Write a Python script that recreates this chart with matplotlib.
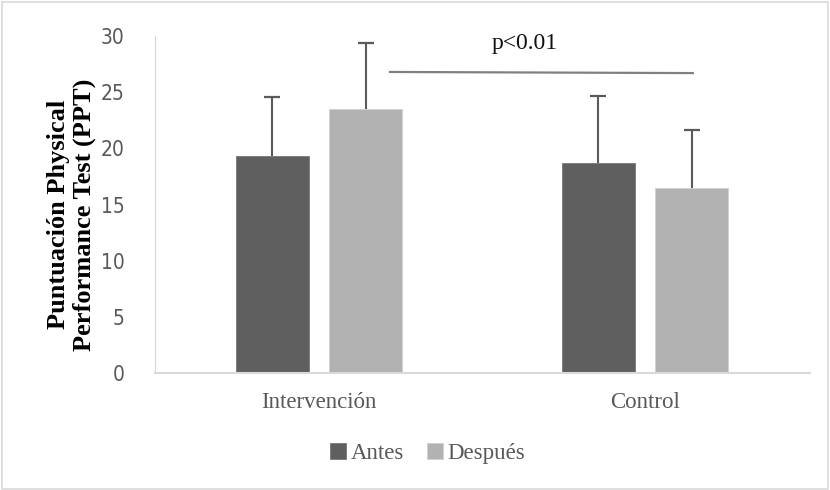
import matplotlib.pyplot as plt
import numpy as np
from matplotlib.patches import Rectangle

groups = ['Intervención', 'Control']
antes = [19.3, 18.7]
despues = [23.5, 16.5]
antes_err = [5.3, 6.0]
despues_err = [5.9, 5.1]
yticks = [0, 5, 10, 15, 20, 25, 30]

x = np.arange(len(groups))
w = 0.224
off = 0.143

fig = plt.figure(figsize=(8.3, 4.9), dpi=100)
ax = fig.add_axes([0.1867, 0.2388, 0.789, 0.6877])

ax.bar(x - off, antes, w, color='#5f5f5f', edgecolor='#777777', linewidth=0.6,
       label='Antes', zorder=2)
ax.bar(x + off, despues, w, color='#b2b2b2', edgecolor='#d0d0d0', linewidth=0.6,
       label='Después', zorder=2)

# upper error bars only
for xs, vals, errs in [(x - off, antes, antes_err), (x + off, despues, despues_err)]:
    ax.errorbar(xs, vals, yerr=[np.zeros(2), errs], fmt='none', ecolor='#5a5a5a',
                elinewidth=1.5, capsize=0, zorder=3)
    ax.plot(xs, np.array(vals) + np.array(errs), ls='none', marker='_', ms=11,
            mew=1.6, color='#5a5a5a', zorder=3)

# significance line
ax.plot([0.218, 1.147], [26.8, 26.7], color='#808080', lw=1.6)
ax.text(0.632, 29.3, 'p<0.01', ha='center', va='center', fontsize=17,
        family='Liberation Serif', color='#111111')

ax.set_xlim(-0.503, 1.506)
ax.set_ylim(0, 30)
ax.set_yticks(yticks)
ax.set_xticks(x)
ax.set_xticklabels(groups, family='Liberation Serif', fontsize=16.5, color='#595959')
for t in ax.get_yticklabels():
    t.set_family('DejaVu Sans')
    t.set_stretch('condensed')
    t.set_fontsize(15)
    t.set_color('#595959')
ax.tick_params(length=0)
ax.tick_params(axis='x', pad=14)
ax.tick_params(axis='y', pad=22)
for s in ['top', 'right']:
    ax.spines[s].set_visible(False)
ax.spines['left'].set_color('#d9d9d9')
ax.spines['bottom'].set_color('#d9d9d9')
ax.spines['bottom'].set_linewidth(1.5)

ax.set_ylabel('Puntuación Physical\nPerformance Test (PPT)', family='Liberation Serif',
              fontweight='bold', fontsize=19, linespacing=1.15)
ax.yaxis.set_label_coords(-0.09, 0.47)

leg = fig.legend(loc='center', bbox_to_anchor=(0.515, 0.075), ncol=2, frameon=False,
                 prop={'family': 'Liberation Serif', 'size': 16.5},
                 handlelength=0.7, handleheight=0.7, handletextpad=0.2, columnspacing=1.0)
for t in leg.get_texts():
    t.set_color('#595959')

fig.patches.append(Rectangle((0.002, 0.003), 0.996, 0.993, transform=fig.transFigure,
                             fill=False, edgecolor='#d9d9d9', lw=1.2))

fig.savefig('out.png', dpi=100)
